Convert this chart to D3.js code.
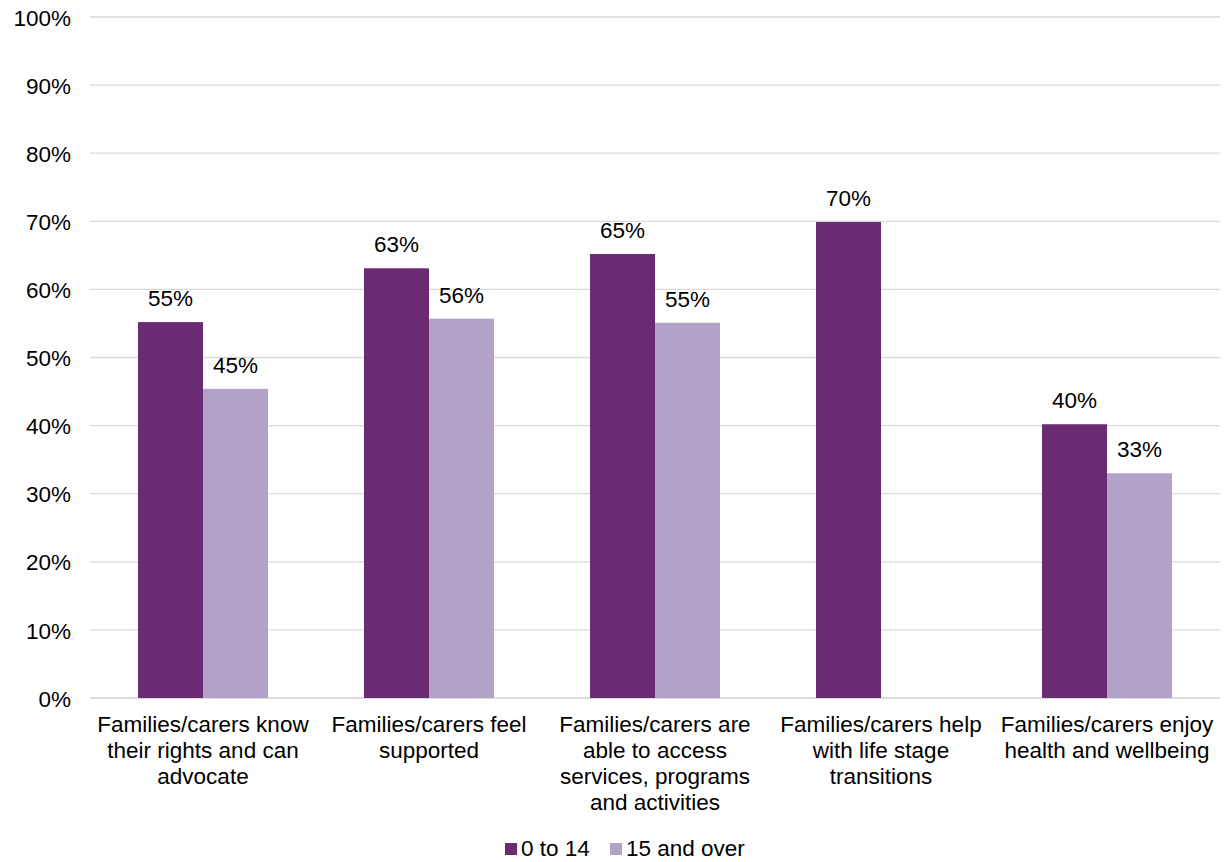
<!DOCTYPE html>
<html><head><meta charset="utf-8">
<script src="https://cdn.jsdelivr.net/npm/d3@7"></script>
<style>body{margin:0;background:#fff;}svg{display:block;font-family:"Liberation Sans",Arial,sans-serif;}</style>
</head><body>
<svg id="c" width="1227" height="862"></svg>
<script>
const categories = [
  ["Families/carers know","their rights and can","advocate"],
  ["Families/carers feel","supported"],
  ["Families/carers are","able to access","services, programs","and activities"],
  ["Families/carers help","with life stage","transitions"],
  ["Families/carers enjoy","health and wellbeing"]
];
const seriesNames = ["0 to 14","15 and over"];
const young = [0.552, 0.631, 0.652, 0.699, 0.402];
const older = [0.454, 0.557, 0.551, null, 0.330];
const yTicks = [0,0.1,0.2,0.3,0.4,0.5,0.6,0.7,0.8,0.9,1.0];
const colors = ["#6b2b73","#b3a2c8"];

const FS = 22.5;
const svg = d3.select("#c");
const L=90, R=1220, T=17, B=698;
const x = d3.scaleBand().domain(d3.range(categories.length)).range([L,R]);
const y = d3.scaleLinear().domain([0,1]).range([B,T]);

svg.append("g").selectAll("line").data(yTicks).join("line")
  .attr("x1",L).attr("x2",R).attr("y1",d=>y(d)).attr("y2",d=>y(d))
  .attr("stroke",d=>d===0?"#d0d0d0":"#d9d9d9").attr("stroke-width",1.3);

const yAxis = d3.axisLeft(y).tickValues(yTicks).tickFormat(d3.format(".0%")).tickSize(0).tickPadding(19);
const ga = svg.append("g").attr("transform",`translate(${L},0)`).call(yAxis);
ga.select(".domain").remove();
ga.selectAll("text").attr("font-size",FS).attr("fill","#000").attr("font-family","Liberation Sans, Arial, sans-serif").attr("dy","0.36em");

const bw = 65;
const series = [young, older];
series.forEach((vals,si)=>{
  const g = svg.append("g");
  const data = vals.map((v,i)=>({v,i})).filter(d=>d.v!==null);
  g.selectAll("rect").data(data).join("rect")
    .attr("x",d=>x(d.i)+x.bandwidth()/2 - bw + si*bw)
    .attr("width",bw)
    .attr("y",d=>y(d.v)).attr("height",d=>B-y(d.v))
    .attr("fill",colors[si]);
  g.selectAll("text").data(data).join("text")
    .attr("x",d=>x(d.i)+x.bandwidth()/2 - bw/2 + si*bw)
    .attr("y",d=>y(d.v)-16)
    .attr("text-anchor","middle").attr("font-size",FS).attr("fill","#000")
    .text(d=>d3.format(".0%")(d.v));
});

const cl = svg.append("g");
categories.forEach((lines,i)=>{
  const t = cl.append("text").attr("text-anchor","middle").attr("font-size",FS).attr("fill","#000");
  lines.forEach((ln,j)=>{
    t.append("tspan").attr("x",x(i)+x.bandwidth()/2).attr("y",732+j*26).text(ln);
  });
});

const lg = svg.append("g");
const lx = [505, 610];
seriesNames.forEach((n,i)=>{
  lg.append("rect").attr("x",lx[i]).attr("y",843).attr("width",12).attr("height",12).attr("fill",colors[i]);
  lg.append("text").attr("x",lx[i]+16).attr("y",856).attr("font-size",FS).attr("fill","#000").text(n);
});
</script>
</body></html>
